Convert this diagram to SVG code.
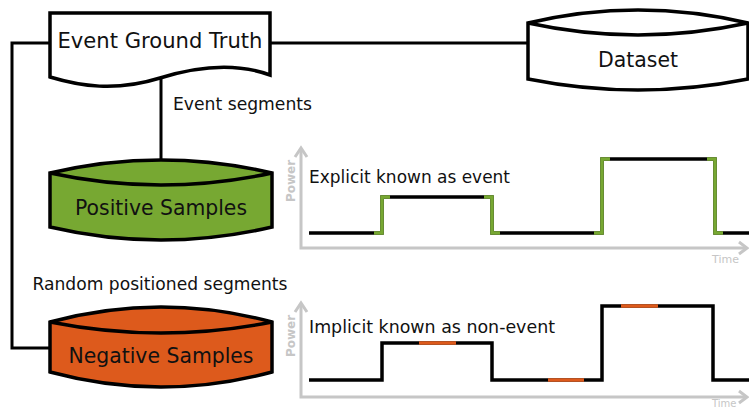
<svg xmlns="http://www.w3.org/2000/svg" width="749" height="408" viewBox="0 0 749 408">
<style>
.sh{stroke:#000;stroke-width:3.5;stroke-linejoin:miter}
.t{font-family:"DejaVu Sans",Verdana,sans-serif;fill:#111}
.ax{fill:none;stroke:#c6c6c6;stroke-width:3}
.axl{font-family:"DejaVu Sans",Verdana,sans-serif;fill:#c6c6c6}
.sig{fill:none;stroke:#000;stroke-width:3.5}
.g{fill:none;stroke:#77a832;stroke-width:3.5}
.o{fill:none;stroke:#dd5a1c;stroke-width:3.5}
.c{fill:none;stroke:#000;stroke-width:3}
</style>
<rect width="749" height="408" fill="#fff"/>
<g id="connectors">
<path class="c" d="M50,43 H12 V348 H50"/>
<path class="c" d="M270,43 H528"/>
<path class="c" d="M161,79 V162"/>
<text class="t" x="173" y="110" font-size="17" textLength="139" lengthAdjust="spacingAndGlyphs">Event segments</text>
<text class="t" x="160" y="290" font-size="17" text-anchor="middle" textLength="255" lengthAdjust="spacingAndGlyphs">Random positioned segments</text>
</g>
<g id="event-ground-truth">
<path class="sh" fill="#fff" d="M50,13 H270 V75 C240,64 205,64 160,78 S80,86 50,77 Z"/>
<text class="t" x="160" y="48" font-size="21" text-anchor="middle" textLength="205" lengthAdjust="spacingAndGlyphs">Event Ground Truth</text>
</g>
<g id="dataset">
<path class="sh" fill="#fff" d="M528,23 Q638,-3 748,23 L748,79 Q638,101 528,79 Z"/>
<path class="sh" fill="none" d="M528,23 Q638,47 748,23"/>
<text class="t" x="638" y="67" font-size="21" text-anchor="middle" textLength="80" lengthAdjust="spacingAndGlyphs">Dataset</text>
</g>
<g id="positive-samples">
<path class="sh" fill="#77a832" d="M50,173 Q161,147 272,173 L272,227 Q161,253 50,227 Z"/>
<path class="sh" fill="none" d="M50,173 Q161,197 272,173"/>
<text class="t" x="161" y="215" font-size="21" text-anchor="middle" textLength="172" lengthAdjust="spacingAndGlyphs">Positive Samples</text>
</g>
<g id="negative-samples">
<path class="sh" fill="#dd5a1c" d="M50,322 Q161,292 272,322 L272,372 Q161,402 50,372 Z"/>
<path class="sh" fill="none" d="M50,322 Q161,344 272,322"/>
<text class="t" x="161" y="363" font-size="21" text-anchor="middle" textLength="185" lengthAdjust="spacingAndGlyphs">Negative Samples</text>
</g>
<g id="chart-explicit">
<path class="ax" d="M301,148 V248 H747"/>
<path class="ax" d="M295,157 L301,148 L307,157"/>
<path class="ax" d="M739,242 L747,248 L739,254"/>
<text class="axl" transform="translate(295,181) rotate(-90)" font-size="12" font-weight="bold" text-anchor="middle">Power</text>
<text class="axl" x="712" y="263" font-size="11">Time</text>
<path class="sig" d="M309,233 H382 V197 H492 V233 H602 V159 H715 V233 H749"/>
<path class="g" d="M374,233 H382 V197 H390"/>
<path class="g" d="M484,197 H492 V233 H500"/>
<path class="g" d="M594,233 H602 V159 H610"/>
<path class="g" d="M707,159 H715 V233 H723"/>
<text class="t" x="309" y="183" font-size="17.5" textLength="201" lengthAdjust="spacingAndGlyphs">Explicit known as event</text>
</g>
<g id="chart-implicit">
<path class="ax" d="M301,303 V397 H747"/>
<path class="ax" d="M295,312 L301,303 L307,312"/>
<path class="ax" d="M739,391 L747,397 L739,403"/>
<text class="axl" transform="translate(295,336) rotate(-90)" font-size="12" font-weight="bold" text-anchor="middle">Power</text>
<text class="axl" x="712" y="407" font-size="10">Time</text>
<path class="sig" d="M309,380 H382 V343 H492 V380 H602 V306 H713 V380 H749"/>
<path class="o" d="M419,343 H456"/>
<path class="o" d="M548,380 H584"/>
<path class="o" d="M621,306 H658"/>
<text class="t" x="309" y="333" font-size="17.5" textLength="246" lengthAdjust="spacingAndGlyphs">Implicit known as non-event</text>
</g>
</svg>
